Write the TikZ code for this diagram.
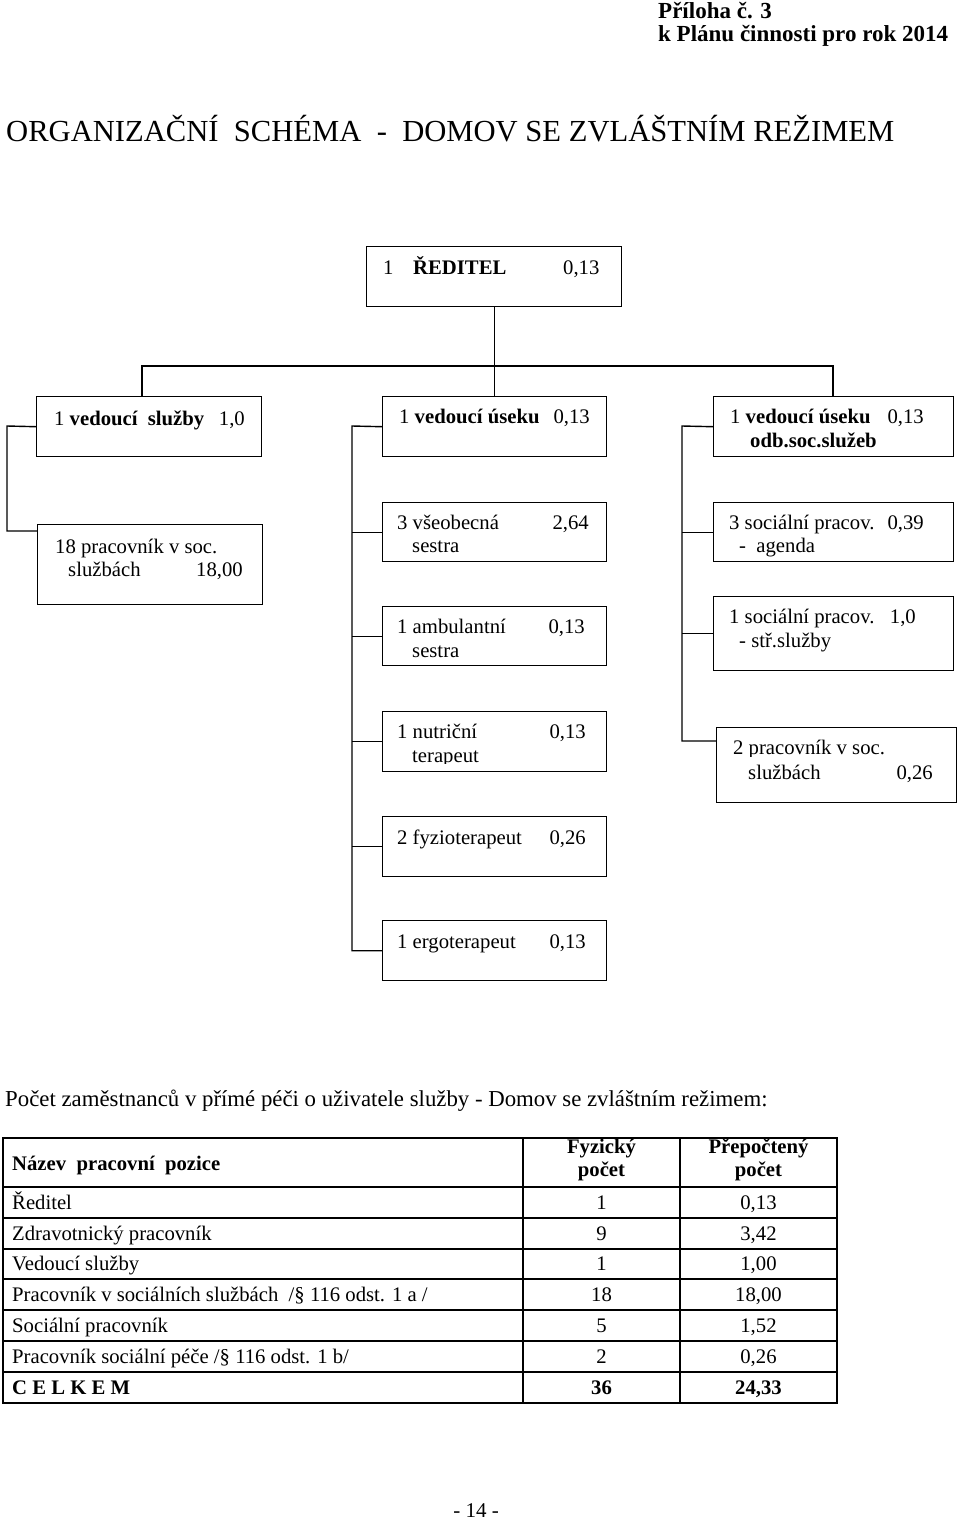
\documentclass[tikz,border=0pt]{standalone}
\usepackage{fontspec}
\setmainfont{Liberation Serif}
\usetikzlibrary{calc}
\begin{document}
\begin{tikzpicture}[x=1pt,y=-1pt,
  box/.style={draw,line width=1.4pt,rectangle,inner sep=0pt,anchor=north west},
  conn/.style={line width=1.4pt,line join=miter},
  tx/.style={anchor=base west,inner sep=0pt,font=\fontsize{20.7}{24}\selectfont},
  tr/.style={anchor=base east,inner sep=0pt,font=\fontsize{20.7}{24}\selectfont},
  tc/.style={anchor=base,inner sep=0pt,font=\fontsize{20.7}{24}\selectfont},
  bf/.style={font=\fontsize{20.7}{24}\selectfont\bfseries},
  tl/.style={line width=1.3pt}]
\useasboundingbox (0,0) rectangle (960,1524);
\fill[white] (0,0) rectangle (960,1524);

% header
\node[anchor=base west,inner sep=0pt,font=\fontsize{23}{26}\selectfont\bfseries] (h1) at (658,18) {Příloha č. 3};
\node[anchor=base west,inner sep=0pt,font=\fontsize{23}{26}\selectfont\bfseries] (h2) at (658,41) {k Plánu činnosti pro rok 2014};
\node[anchor=base west,inner sep=0pt,font=\fontsize{30.6}{35}\selectfont] (title) at (6,141) {ORGANIZAČNÍ\ \ SCHÉMA\ \ -\ \ DOMOV SE ZVLÁŠTNÍM REŽIMEM};

% boxes
\node[box,minimum width=255pt,minimum height=60pt] (dir) at (366,246) {};
\node[box,minimum width=225pt,minimum height=60pt] (A) at (36,396) {};
\node[box,minimum width=224pt,minimum height=60pt] (B) at (382,396) {};
\node[box,minimum width=240pt,minimum height=60pt] (C) at (713,396) {};
\node[box,minimum width=225pt,minimum height=80pt] (D) at (37,524) {};
\node[box,minimum width=224pt,minimum height=59pt] (E) at (382,502) {};
\node[box,minimum width=224pt,minimum height=59pt] (F) at (382,606) {};
\node[box,minimum width=240pt,minimum height=59pt] (G) at (713,502) {};
\node[box,minimum width=240pt,minimum height=74pt] (H) at (713,596) {};
\node[box,minimum width=224pt,minimum height=60pt] (I) at (382,711) {};
\node[box,minimum width=224pt,minimum height=60pt] (J) at (382,816) {};
\node[box,minimum width=224pt,minimum height=60pt] (K) at (382,920) {};
\node[box,minimum width=240pt,minimum height=75pt] (L) at (716,727) {};

% box texts
\node[tx] (t1) at (383,274) {1};
\node[tx,bf] (t2) at (413,274) {ŘEDITEL};
\node[tx] (t3) at (563,274) {0,13};

\node[tx] (ta1) at (54,425) {1 \textbf{vedoucí\ \ služby}};
\node[tr] (ta2) at (245,425) {1,0};
\node[tx] (tb1) at (399,423) {1 \textbf{vedoucí úseku}};
\node[tr] (tb2) at (590,423) {0,13};
\node[tx] (tc1) at (730,423) {1 \textbf{vedoucí úseku}};
\node[tr] (tc2) at (924,423) {0,13};
\node[tx,bf] (tc3) at (750,447) {odb.soc.služeb};

\node[tx] (td1) at (55,553) {18 pracovník v soc.};
\node[tx] (td2) at (68,576) {službách};
\node[tr] (td3) at (243,576) {18,00};

\node[tx] (te1) at (397,529) {3 všeobecná};
\node[tr] (te2) at (589,529) {2,64};
\node[tx] (te3) at (412,552) {sestra};

\node[tx] (tf1) at (397,633) {1 ambulantní};
\node[tr] (tf2) at (585,633) {0,13};
\node[tx] (tf3) at (412,657) {sestra};

\node[tx] (tg1) at (729,529) {3 sociální pracov.};
\node[tr] (tg2) at (924,529) {0,39};
\node[tx] (tg3) at (739,552) {-\ \ agenda};

\node[tx] (th1) at (729,623) {1 sociální pracov.};
\node[tr] (th2) at (916,623) {1,0};
\node[tx] (th3) at (739,647) {- stř.služby};

\node[tx] (ti1) at (397,738) {1 nutriční};
\node[tr] (ti2) at (586,738) {0,13};
\begin{scope}
\clip (383,745) rectangle (605,763);
\node[tx] (ti3) at (412,762) {terapeut};
\end{scope}

\node[tx] (tj1) at (397,844) {2 fyzioterapeut};
\node[tr] (tj2) at (586,844) {0,26};
\node[tx] (tk1) at (397,948) {1 ergoterapeut};
\node[tr] (tk2) at (586,948) {0,13};

\begin{scope}
\clip (717,730) rectangle (955,756);
\node[tx] (tl1) at (733,754) {2 pracovník v soc.};
\end{scope}
\node[tx] (tl2) at (748,779) {službách};
\node[tr] (tl3) at (933,779) {0,26};

% connectors
\coordinate (busL) at (142,366);
\coordinate (busR) at (833,366);
\draw[conn] (dir.south) -- (dir.south |- busL);
\draw[conn] (busL |- A.north) -- (busL) -- (busR) -- (busR |- C.north);
\draw[conn] (dir.south |- busL) -- (dir.south |- B.north);

\coordinate (lx) at (7,426);
\coordinate (Dj) at ([yshift=-7pt]D.north west);
\draw[conn] (A.west) -- (lx) -- (lx |- Dj) -- (Dj);

\coordinate (mx) at (352,426);
\draw[conn] (B.west) -- (mx) -- (mx |- K.west) -- (K.west);
\draw[conn] (mx |- E.west) -- (E.west);
\draw[conn] (mx |- F.west) -- (F.west);
\draw[conn] (mx |- I.west) -- (I.west);
\draw[conn] (mx |- J.west) -- (J.west);

\coordinate (rx) at (682,426);
\coordinate (Lj) at ([yshift=-14pt]L.north west);
\draw[conn] (C.west) -- (rx) -- (rx |- Lj) -- (Lj);
\draw[conn] (rx |- G.west) -- (G.west);
\draw[conn] (rx |- H.west) -- (H.west);

% intro sentence
\node[anchor=base west,inner sep=0pt,font=\fontsize{22.8}{26}\selectfont] (intro) at (5,1106) {Počet zaměstnanců v přímé péči o uživatele služby - Domov se zvláštním režimem:};

% table
\draw[tl] (3,1138) rectangle (837,1403);
\foreach \yy in {1187,1218,1249,1279,1310,1341,1372} \draw[tl] (3,\yy) -- (837,\yy);
\draw[tl] (523,1138) -- (523,1403);
\draw[tl] (680,1138) -- (680,1403);

\node[tx,bf] (hn) at (12,1170) {Název\ \ pracovní\ \ pozice};
\node[tc,bf] (hf1) at (601.5,1153) {Fyzický};
\node[tc,bf] (hf2) at (601.5,1176) {počet};
\node[tc,bf] (hp1) at (758.5,1153) {Přepočtený};
\node[tc,bf] (hp2) at (758.5,1176) {počet};

\node[tx] (r1a) at (12,1209) {Ředitel};
\node[tc] (r1b) at (601.5,1209) {1};
\node[tc] (r1c) at (758.5,1209) {0,13};
\node[tx] (r2a) at (12,1240) {Zdravotnický pracovník};
\node[tc] (r2b) at (601.5,1240) {9};
\node[tc] (r2c) at (758.5,1240) {3,42};
\node[tx] (r3a) at (12,1270.5) {Vedoucí služby};
\node[tc] (r3b) at (601.5,1270.5) {1};
\node[tc] (r3c) at (758.5,1270.5) {1,00};
\node[tx] (r4a) at (12,1301) {Pracovník v sociálních službách\ \ /§ 116 odst. 1 a /};
\node[tc] (r4b) at (601.5,1301) {18};
\node[tc] (r4c) at (758.5,1301) {18,00};
\node[tx] (r5a) at (12,1332) {Sociální pracovník};
\node[tc] (r5b) at (601.5,1332) {5};
\node[tc] (r5c) at (758.5,1332) {1,52};
\node[tx] (r6a) at (12,1363) {Pracovník sociální péče /§ 116 odst. 1 b/};
\node[tc] (r6b) at (601.5,1363) {2};
\node[tc] (r6c) at (758.5,1363) {0,26};
\node[tx,bf] (r7a) at (12,1394) {C E L K E M};
\node[tc,bf] (r7b) at (601.5,1394) {36};
\node[tc,bf] (r7c) at (758.5,1394) {24,33};

% page number
\node[tc,font=\fontsize{21}{25}\selectfont] (pg) at (476,1517) {- 14 -};
\end{tikzpicture}
\end{document}
